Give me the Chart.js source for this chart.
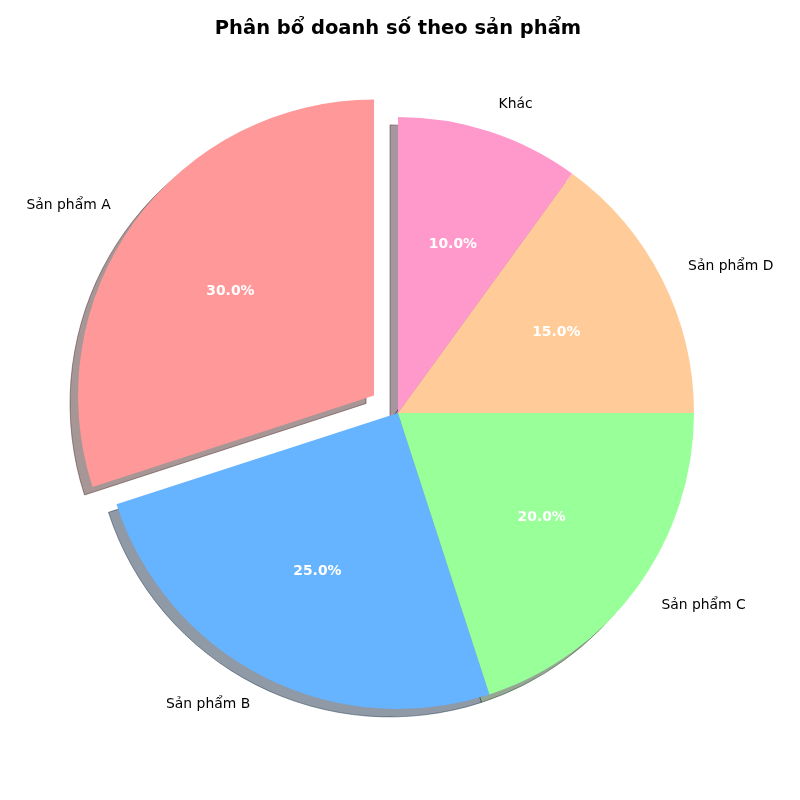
<!DOCTYPE html>
<html><head><meta charset="utf-8">
<script src="https://cdn.jsdelivr.net/npm/chart.js@4"></script>
<style>html,body{margin:0;padding:0;background:#fff}</style>
</head><body>
<canvas id="c" width="800" height="800"></canvas>
<script>
// ---- data (matplotlib order, counter-clockwise from top) ----
const categories = ['Sản phẩm A', 'Sản phẩm B', 'Sản phẩm C', 'Sản phẩm D', 'Khác'];
const shares = [30, 25, 20, 15, 10];
const explode = [0.1, 0, 0, 0, 0];
const colors = ['#ff9999', '#66b3ff', '#99ff99', '#ffcc99', '#ff99cc'];
const titleText = 'Phân bổ doanh số theo sản phẩm';

// Chart.js draws clockwise, so reverse to get counter-clockwise order
const cjLabels = categories.slice().reverse();
const cjValues = shares.slice().reverse();
const cjColors = colors.slice().reverse();
const cjExplode = explode.slice().reverse();

const FONT = "'DejaVu Sans', sans-serif";
const SHADOW_DX = -8, SHADOW_DY = 8;

function shadowColor(hex) {
  const r = parseInt(hex.slice(1, 3), 16), g = parseInt(hex.slice(3, 5), 16), b = parseInt(hex.slice(5, 7), 16);
  return `rgba(${Math.round(r * 0.3)},${Math.round(g * 0.3)},${Math.round(b * 0.3)},0.5)`;
}

function arcGeom(arc, j) {
  const p = arc.getProps(['x', 'y', 'startAngle', 'endAngle', 'outerRadius'], true);
  const mid = (p.startAngle + p.endAngle) / 2;
  const e = cjExplode[j] * p.outerRadius;
  return { p, mid, dx: Math.cos(mid) * e, dy: Math.sin(mid) * e };
}

const mplPie = {
  id: 'mplPie',
  beforeDatasetDraw(chart) {
    const ctx = chart.ctx;
    const arcs = chart.getDatasetMeta(0).data;
    const n = arcs.length;
    // shadows (all below wedges)
    for (let i = 0; i < n; i++) {
      const j = n - 1 - i;
      const g = arcGeom(arcs[j], j);
      ctx.save();
      ctx.translate(g.dx + SHADOW_DX, g.dy + SHADOW_DY);
      ctx.beginPath();
      ctx.moveTo(g.p.x, g.p.y);
      ctx.arc(g.p.x, g.p.y, g.p.outerRadius, g.p.startAngle, g.p.endAngle);
      ctx.closePath();
      ctx.fillStyle = shadowColor(cjColors[j]);
      ctx.strokeStyle = shadowColor(cjColors[j]);
      ctx.lineWidth = 1;
      ctx.fill();
      ctx.stroke();
      ctx.restore();
    }
    // wedges in matplotlib order
    for (let i = 0; i < n; i++) {
      const j = n - 1 - i;
      const g = arcGeom(arcs[j], j);
      ctx.save();
      ctx.translate(g.dx, g.dy);
      arcs[j].draw(ctx, chart.chartArea);
      ctx.restore();
    }
    return false;
  },
  afterDatasetsDraw(chart) {
    const ctx = chart.ctx;
    const arcs = chart.getDatasetMeta(0).data;
    const total = cjValues.reduce((a, b) => a + b, 0);
    ctx.save();
    arcs.forEach((arc, j) => {
      const g = arcGeom(arc, j);
      const cx = g.p.x + g.dx, cy = g.p.y + g.dy, r = g.p.outerRadius;
      const c = Math.cos(g.mid), s = Math.sin(g.mid);
      // outer label
      ctx.font = `13.9px ${FONT}`;
      ctx.fillStyle = '#000';
      ctx.textBaseline = 'middle';
      ctx.textAlign = c > 0 ? 'left' : 'right';
      ctx.fillText(cjLabels[j], cx + 1.1 * r * c, cy + 1.1 * r * s + 1);
      // percentage
      ctx.font = `bold 13.9px ${FONT}`;
      ctx.fillStyle = '#fff';
      ctx.textAlign = 'center';
      ctx.fillText((cjValues[j] / total * 100).toFixed(1) + '%', cx + 0.6 * r * c, cy + 0.6 * r * s + 0.4);
    });
    ctx.restore();
  }
};

new Chart(document.getElementById('c'), {
  type: 'pie',
  data: {
    labels: cjLabels,
    datasets: [{ data: cjValues, backgroundColor: cjColors, borderWidth: 0 }]
  },
  options: {
    responsive: false,
    devicePixelRatio: 1,
    animation: false,
    events: [],
    layout: { padding: { left: 102, right: 106, top: 0, bottom: 91 } },
    plugins: {
      legend: { display: false },
      tooltip: { enabled: false },
      title: {
        display: true,
        text: titleText,
        color: '#000',
        font: { family: FONT, size: 19.5, weight: 'bold' },
        padding: { top: 17.5, bottom: 75.9 }
      }
    }
  },
  plugins: [mplPie]
});
</script>
</body></html>
